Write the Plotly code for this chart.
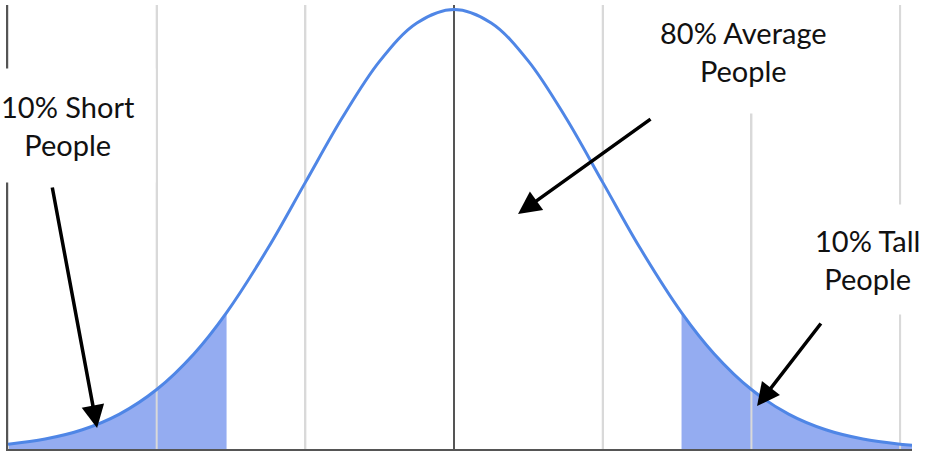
import plotly.graph_objects as go

# Standard normal density, tabulated (z-score -> density)
z_values = [-3.0, -2.75, -2.5, -2.25, -2.0, -1.75, -1.53, -1.25, -1.0, -0.75, -0.5, -0.25,
            0.0, 0.25, 0.5, 0.75, 1.0, 1.25, 1.53, 1.75, 2.0, 2.25, 2.5, 2.75, 3.0, 3.08]
density = [0.0044, 0.0091, 0.0175, 0.0317, 0.0540, 0.0863, 0.1238, 0.1826, 0.2420, 0.3011, 0.3521, 0.3867,
           0.3989, 0.3867, 0.3521, 0.3011, 0.2420, 0.1826, 0.1238, 0.0863, 0.0540, 0.0317, 0.0175, 0.0091, 0.0044, 0.0035]

# Cut-offs for the shaded tails
short_cut = -1.53
tall_cut = 1.53

grid_ticks = [-3, -2, -1, 0, 1, 2, 3]

# Callout labels: text, centre (z, density), padding
labels = [
    ("10% Short<br>People", -2.597, 0.294, 20),
    ("80% Average<br>People", 1.944, 0.361, 25),
    ("10% Tall<br>People", 2.784, 0.172, 18),
]
# Arrows: (tail z, tail density, tip z, tip density)
arrows = [
    (-2.704, 0.2387, -2.401, 0.0191),
    (1.3315, 0.3004, 0.4302, 0.2133),
    (2.4749, 0.1153, 2.0377, 0.0390),
]

LINE_BLUE = "#4f86e6"
FILL_BLUE = "#94acf1"
GRID = "#d9d9d9"
AXIS = "#555555"

fig = go.Figure()

left = [(z, d) for z, d in zip(z_values, density) if z <= short_cut]
right = [(z, d) for z, d in zip(z_values, density) if z >= tall_cut]
for part in (left, right):
    fig.add_trace(go.Scatter(
        x=[p[0] for p in part], y=[p[1] for p in part],
        mode="lines", line=dict(width=0, shape="spline", color=FILL_BLUE),
        fill="tozeroy", fillcolor=FILL_BLUE, hoverinfo="skip", showlegend=False,
    ))

# vertical guides redrawn over the shaded tails
gx, gy = [], []
for t in grid_ticks:
    if t == 0:
        continue
    gx += [t, t, None]
    gy += [0, 0.403, None]
fig.add_trace(go.Scatter(x=gx, y=gy, mode="lines", line=dict(color=GRID, width=2),
                         hoverinfo="skip", showlegend=False))

fig.add_trace(go.Scatter(
    x=z_values, y=density, mode="lines",
    line=dict(color=LINE_BLUE, width=3, shape="spline", smoothing=1.0),
    hoverinfo="skip", showlegend=False,
))

for text, cx, cy, pad in labels:
    fig.add_annotation(
        x=cx, y=cy, xref="x", yref="y", text=text, showarrow=False,
        font=dict(family="Lato", size=29, color="#111111"),
        bgcolor="white", borderpad=pad, align="center",
        xanchor="center", yanchor="middle",
    )

for tx, ty, hx, hy in arrows:
    fig.add_annotation(
        x=hx, y=hy, ax=tx, ay=ty, xref="x", yref="y", axref="x", ayref="y",
        text="", showarrow=True, arrowhead=2, arrowsize=1.3, arrowwidth=3.5,
        arrowcolor="black", standoff=0,
    )

fig.update_layout(
    width=935, height=453,
    margin=dict(l=8, r=23, t=5, b=4),
    paper_bgcolor="white", plot_bgcolor="white",
    xaxis=dict(range=[-3, 3.08], tickvals=grid_ticks, showticklabels=False, ticks="",
               showgrid=True, gridcolor=GRID, gridwidth=2,
               zeroline=True, zerolinecolor=AXIS, zerolinewidth=2,
               showline=True, linecolor=AXIS, linewidth=2, fixedrange=True),
    yaxis=dict(range=[0, 0.403], showticklabels=False, ticks="", showgrid=False,
               zeroline=False, showline=True, linecolor=AXIS, linewidth=2, fixedrange=True),
)

fig.write_html("out.html")
